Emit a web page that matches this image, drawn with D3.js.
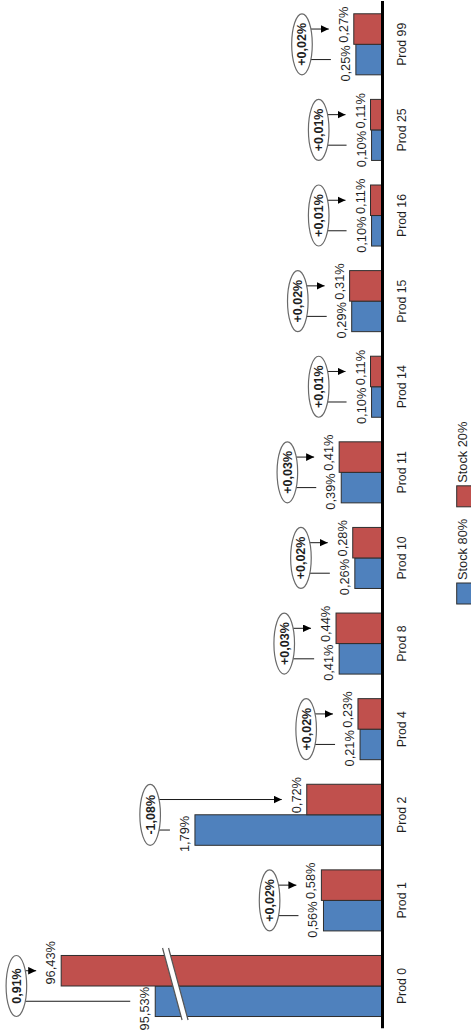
<!DOCTYPE html>
<html>
<head>
<meta charset="utf-8">
<script src="https://cdn.jsdelivr.net/npm/d3@7"></script>
<style>
  html, body { margin: 0; padding: 0; background: #fff; }
  svg { display: block; }
  text { font-family: "Liberation Sans", Arial, sans-serif; fill: #1e1e1e; }
</style>
</head>
<body>
<svg id="chart" width="471" height="1036"></svg>
<script>
// ---- data ----
const categories = ["Prod 0","Prod 1","Prod 2","Prod 4","Prod 8","Prod 10","Prod 11","Prod 14","Prod 15","Prod 16","Prod 25","Prod 99"];
const seriesNames = ["Stock 80%","Stock 20%"];
const stock80 = [95.53,0.56,1.79,0.21,0.41,0.26,0.39,0.10,0.29,0.10,0.10,0.25];
const stock20 = [96.43,0.58,0.72,0.23,0.44,0.28,0.41,0.11,0.31,0.11,0.11,0.27];
const diffLabels = ["0,91%","+0,02%","-1,08%","+0,02%","+0,03%","+0,02%","+0,03%","+0,01%","+0,02%","+0,01%","+0,01%","+0,02%"];
const seriesColors = ["#4F81BD","#C0504D"];
// axis break (values between breakLo and breakHi are skipped)
const breakLo = 2.0, breakHi = 95.36;

// ---- layout (chart drawn unrotated, then rotated -90deg) ----
const W = 1036, H = 471;
const axisV = 382, pxPerUnit = 104.5;

const svg = d3.select("#chart");
const g = svg.append("g").attr("transform", `translate(0,${W}) rotate(-90)`);

const x = d3.scaleBand().domain(categories).range([7.2, 1034.5])
  .paddingInner(0.287).paddingOuter(0.1435);
const x1 = d3.scaleBand().domain(seriesNames).range([0, x.bandwidth()]);
const y = d3.scaleLinear()
  .domain([0, breakLo, breakHi, 100])
  .range([axisV, axisV - pxPerUnit * breakLo, axisV - pxPerUnit * breakLo,
          axisV - pxPerUnit * (breakLo + 100 - breakHi)]);

const rows = categories.map((c, i) => ({cat: c, vals: [stock80[i], stock20[i]], diff: diffLabels[i]}));
const fmt = v => d3.format(".2f")(v).replace(".", ",") + "%";

// defs: arrow marker
const defs = svg.append("defs");
defs.append("marker").attr("id", "arr")
  .attr("markerUnits", "userSpaceOnUse")
  .attr("markerWidth", 9).attr("markerHeight", 9)
  .attr("refX", 8).attr("refY", 3.8).attr("orient", "auto")
  .append("path").attr("d", "M0,0 L8,3.8 L0,7.6 Z").attr("fill", "#000");

// bars
const groups = g.selectAll("g.grp").data(rows).join("g").attr("class", "grp")
  .attr("transform", d => `translate(${x(d.cat)},0)`);

groups.selectAll("rect").data(d => d.vals.map((v, k) => ({v, k})))
  .join("rect")
  .attr("x", d => x1(seriesNames[d.k]))
  .attr("width", x1.bandwidth())
  .attr("y", d => y(d.v))
  .attr("height", d => y(0) - y(d.v))
  .attr("fill", d => seriesColors[d.k])
  .attr("stroke", "#2e2e2e").attr("stroke-width", 1);

// axis break marker on first category
{
  const cu = x(categories[0]) + x.bandwidth() / 2 + 2;
  const cv = y(breakLo) + 2.3;
  const half = 36, slope = -0.271, wBand = 6;
  const p1 = [cu + half, cv + slope * half], p2 = [cu - half, cv - slope * half];
  const poly = [[p1[0], p1[1] - wBand/2], [p2[0], p2[1] - wBand/2], [p2[0], p2[1] + wBand/2], [p1[0], p1[1] + wBand/2]];
  g.append("polygon").attr("points", poly.map(p => p.join(",")).join(" ")).attr("fill", "#fff");
  g.append("line").attr("x1", poly[0][0]).attr("y1", poly[0][1]).attr("x2", poly[1][0]).attr("y2", poly[1][1])
    .attr("stroke", "#555").attr("stroke-width", 1.2);
  g.append("line").attr("x1", poly[3][0]).attr("y1", poly[3][1]).attr("x2", poly[2][0]).attr("y2", poly[2][1])
    .attr("stroke", "#555").attr("stroke-width", 1.2);
}

// axis
const axis = g.append("g").attr("transform", `translate(0,${axisV})`)
  .call(d3.axisBottom(x).tickSize(0).tickSizeOuter(0).tickPadding(15));
axis.select(".domain").attr("stroke", "#000").attr("stroke-width", 3);
axis.selectAll("text").attr("font-size", 12.3).attr("font-family", "Liberation Sans, Arial, sans-serif").attr("fill", "#262626");

// value labels
groups.selectAll("text.val").data(d => d.vals.map((v, k) => ({v, k})))
  .join("text").attr("class", "val")
  .attr("x", d => d.k === 0 ? x.bandwidth() / 2 - 1 : x.bandwidth() / 2 + 1.5)
  .attr("y", d => y(d.v) - 6)
  .attr("text-anchor", d => d.k === 0 ? "end" : "start")
  .attr("font-size", 12.8)
  .text(d => fmt(d.v));

// difference annotations
const rx = 30.5, ry = 10.3;
groups.each(function(d) {
  const sel = d3.select(this);
  const ends = d.vals.map(v => y(v) - 25);
  const minEnd = Math.min(...ends);
  const gap = Math.abs(ends[0] - ends[1]) > 50 ? 9.5 : 16.5;
  const cy = minEnd - gap - ry;
  const cx = x.bandwidth() / 2;
  d.vals.forEach((v, k) => {
    const u = x1(seriesNames[k]) + x1.bandwidth() / 2;
    const ln = sel.append("line")
      .attr("x1", u).attr("x2", u).attr("y1", cy).attr("y2", ends[k])
      .attr("stroke", "#1a1a1a").attr("stroke-width", 1);
    if (k === 1) ln.attr("marker-end", "url(#arr)");
  });
  sel.append("ellipse").attr("cx", cx).attr("cy", cy).attr("rx", rx).attr("ry", ry)
    .attr("fill", "#fff").attr("stroke", "#6a6a6a").attr("stroke-width", 1.2);
  sel.append("text").attr("x", cx).attr("y", cy).attr("dy", "0.36em")
    .attr("text-anchor", "middle").attr("font-size", 12.5).attr("font-weight", "bold")
    .text(d.diff);
});

// legend
{
  const lg = g.append("g");
  let u = 432;
  seriesNames.forEach((name, k) => {
    lg.append("rect").attr("x", u).attr("y", 456.7).attr("width", 21).attr("height", 21)
      .attr("fill", seriesColors[k]).attr("stroke", "#2e2e2e").attr("stroke-width", 1);
    u += 24;
    const t = lg.append("text").attr("x", u).attr("y", 467).attr("font-size", 12.8).attr("fill", "#262626").text(name);
    u += t.node().getComputedTextLength() + 12;
  });
}
</script>
</body>
</html>
